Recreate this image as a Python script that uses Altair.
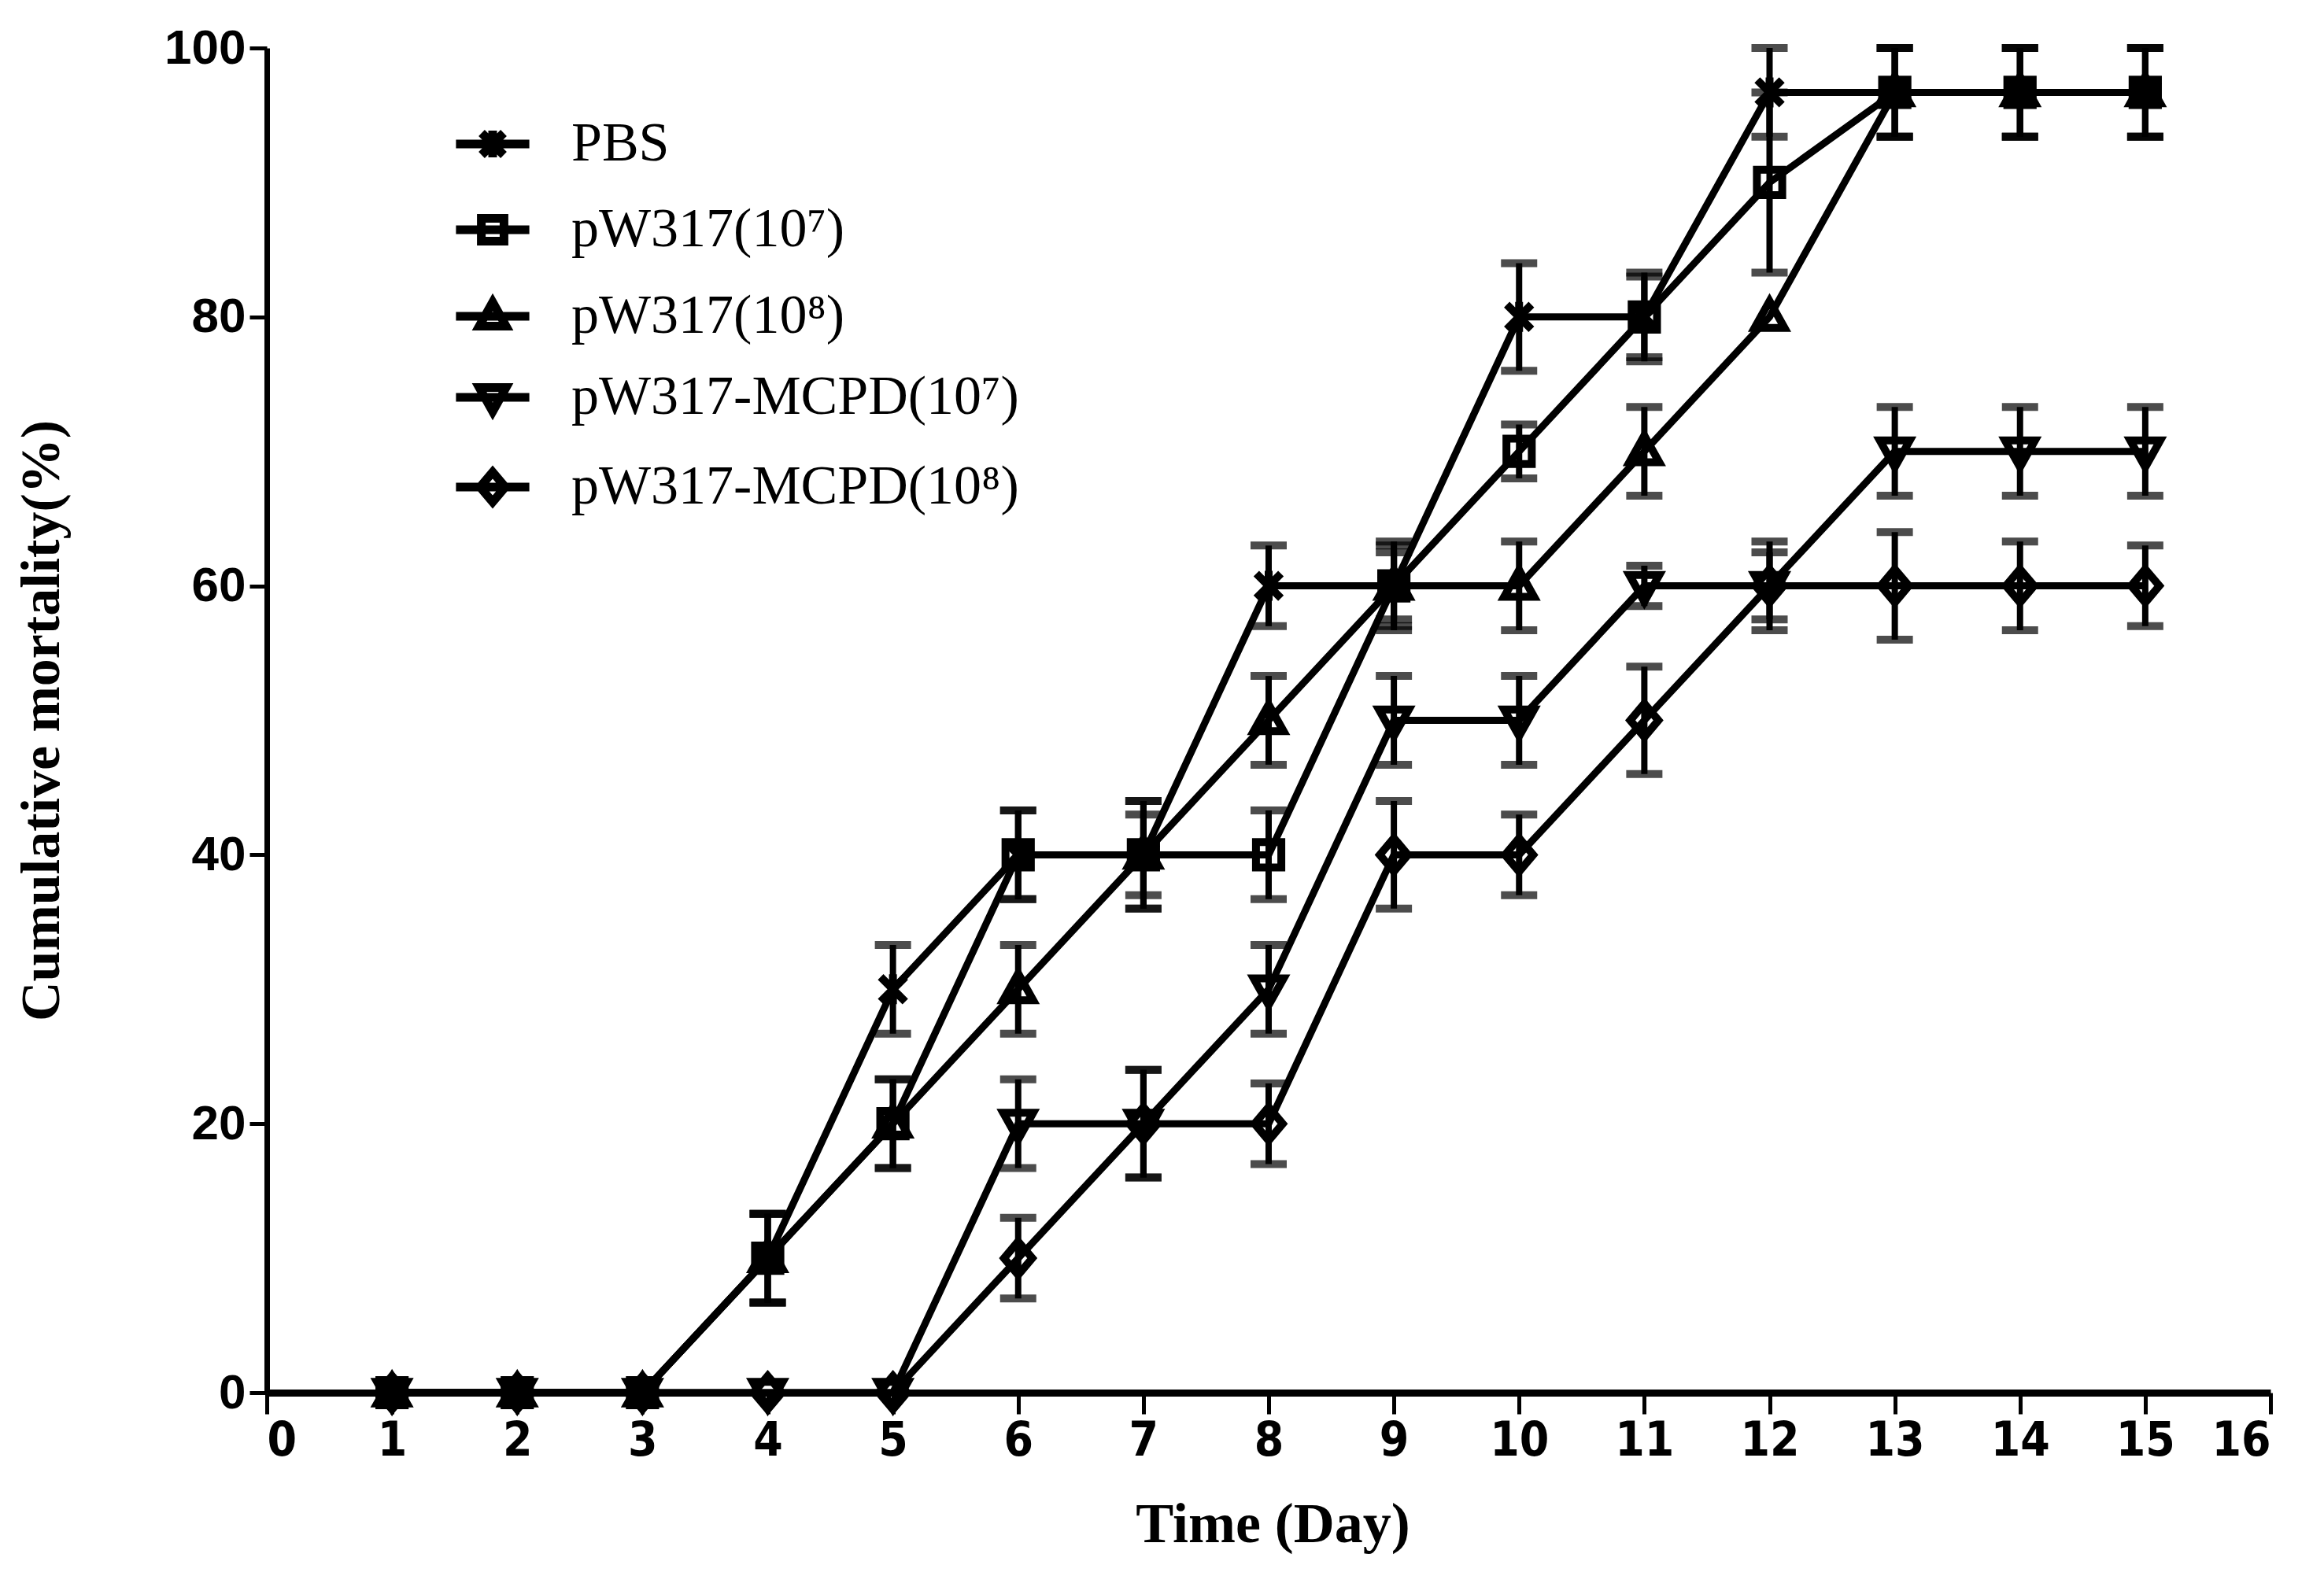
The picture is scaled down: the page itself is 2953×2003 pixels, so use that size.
import altair as alt
import pandas as pd

# ---- data ----
days = list(range(1, 16))
series_names = ["PBS", "pW317(10⁷)", "pW317(10⁸)", "pW317-MCPD(10⁷)", "pW317-MCPD(10⁸)"]

pbs = [0, 0, 0, 10, 30, 40, 40, 60, 60, 80, 80, 96.7, 96.7, 96.7, 96.7]
pbs_err = [0, 0, 0, 3.3, 3.3, 3.3, 4, 3, 3, 4, 3.3, 3.3, 3.3, 3.3, 3.3]

w317_7 = [0, 0, 0, 10, 20, 40, 40, 40, 60, 70, 80, 90, 96.7, 96.7, 96.7]
w317_7_err = [0, 0, 0, 3.3, 3.3, 3.3, 4, 3.3, 3.3, 2, 3, 6.7, 3.3, 3.3, 3.3]

w317_8 = [0, 0, 0, 10, 20, 30, 40, 50, 60, 60, 70, 80, 96.7, 96.7, 96.7]
w317_8_err = [0, 0, 0, 3.3, 3.3, 3.3, 3, 3.3, 2.5, 3.3, 3.3, 0, 3.3, 3.3, 3.3]

mcpd_7 = [0, 0, 0, 0, 0, 20, 20, 30, 50, 50, 60, 60, 70, 70, 70]
mcpd_7_err = [0, 0, 0, 0, 0, 3.3, 4, 3.3, 3.3, 3.3, 1.5, 3.3, 3.3, 3.3, 3.3]

mcpd_8 = [0, 0, 0, 0, 0, 10, 20, 20, 40, 40, 50, 60, 60, 60, 60]
mcpd_8_err = [0, 0, 0, 0, 0, 3, 4, 3, 4, 3, 4, 2.5, 4, 3.3, 3]

x_ticks = list(range(0, 17))
y_ticks = [0, 20, 40, 60, 80, 100]

values = [pbs, w317_7, w317_8, mcpd_7, mcpd_8]
errors = [pbs_err, w317_7_err, w317_8_err, mcpd_7_err, mcpd_8_err]

rows = []
for name, vals, errs in zip(series_names, values, errors):
    for d, v, e in zip(days, vals, errs):
        rows.append({"day": d, "mortality": v, "err": e, "lo": v - e, "hi": v + e,
                     "series": name, "series_leg": name})
df = pd.DataFrame(rows)

# marker shapes (custom paths, unit box)
marker_paths = [
    "M-0.7,-0.7L0.7,0.7M-0.7,0.7L0.7,-0.7M0,-0.85V0.85",   # PBS star
    "M-0.72,-0.72H0.72V0.72H-0.72Z",                        # square
    "M0,-0.9L0.85,0.62L-0.85,0.62Z",                        # triangle up
    "M0,0.9L0.85,-0.62L-0.85,-0.62Z",                       # triangle down
    "M0,-0.95L0.8,0L0,0.95L-0.8,0Z",                        # diamond
]
legend_paths = ["M-2.33,0H2.33" + p for p in marker_paths]

W, H = 2546, 1709

x_enc = alt.X("day:Q",
              scale=alt.Scale(domain=[0, 16], nice=False, zero=False),
              axis=alt.Axis(values=x_ticks, title="Time (Day)", format="d",
                            labelFont="Liberation Sans Narrow, DejaVu Sans Condensed, Arial Narrow, Liberation Sans",
                            labelFontSize=60,
                            labelFontWeight="bold", labelColor="black", labelPadding=5,
                            tickSize=27, tickWidth=5, tickColor="black",
                            domainWidth=9, domainColor="black", grid=False,
                            titleFont="Liberation Serif", titleFontSize=72,
                            titleFontWeight="bold", titleColor="black",
                            titleX=1278, titleY=189, titleAlign="center",
                            titleBaseline="alphabetic"))
y_scale = alt.Scale(domain=[0, 100], nice=False)
y_axis = alt.Axis(values=y_ticks, title="Cumulative mortality(%)",
                  labelFont="Liberation Sans", labelFontSize=62, labelFontWeight="bold",
                  labelColor="black", labelPadding=5,
                  tickSize=22, tickWidth=5, tickColor="black",
                  domainWidth=7, domainColor="black", grid=False,
                  titleFont="Liberation Serif", titleFontSize=70, titleFontWeight="bold",
                  titleColor="black", titleX=-286, titleY=H / 2, titleAngle=270,
                  titleAlign="center", titleBaseline="middle")

base = alt.Chart(df)

lines = base.mark_line(color="black", strokeWidth=9).encode(
    x=x_enc,
    y=alt.Y("mortality:Q", scale=y_scale, axis=y_axis),
    detail="series:N",
)

bars_df = base.transform_filter("datum.err > 0")
rules = bars_df.mark_rule(color="black", strokeWidth=8).encode(
    x="day:Q", y="lo:Q", y2="hi:Q")
caps_lo = bars_df.mark_tick(color="black", orient="horizontal", size=46, thickness=10).encode(
    x="day:Q", y="lo:Q")
caps_hi = bars_df.mark_tick(color="black", orient="horizontal", size=46, thickness=10).encode(
    x="day:Q", y="hi:Q")

points = base.mark_point(filled=False, stroke="black", strokeWidth=10, opacity=1,
                         size=2000).encode(
    x="day:Q",
    y="mortality:Q",
    shape=alt.Shape("series:N", scale=alt.Scale(domain=series_names, range=marker_paths),
                    legend=None),
)

legend_layer = base.mark_point(
    filled=False, stroke="black", strokeWidth=11, opacity=0, size=1600
).encode(
    x="day:Q",
    y="mortality:Q",
    shape=alt.Shape("series_leg:N",
                    scale=alt.Scale(domain=series_names, range=legend_paths),
                    legend=alt.Legend(orient="none", legendX=252, legendY=87, title=None,
                                      padding=0, labelFont="Liberation Serif",
                                      labelFontSize=70, labelColor="black",
                                      labelOffset=65, rowPadding=33, labelLimit=1200,
                                      symbolSize=1600, symbolStrokeWidth=11,
                                      symbolFillColor="transparent",
                                      symbolStrokeColor="black",
                                      symbolOpacity=1)),
)

chart = alt.layer(lines, rules, caps_lo, caps_hi, points, legend_layer).resolve_scale(
    shape="independent"
).properties(
    width=W, height=H,
    padding={"left": 331, "top": 53, "right": 60, "bottom": 220},
    autosize=alt.AutoSizeParams(type="none"),
    background="white",
).configure_view(stroke=None)

chart.save("out.html", embed_options={"renderer": "svg", "actions": False})
